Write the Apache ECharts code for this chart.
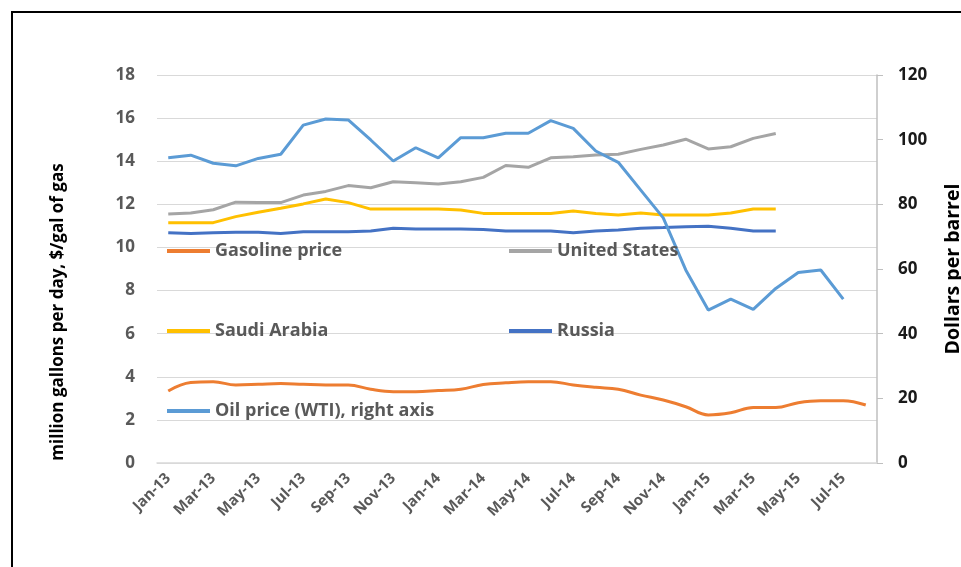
<!DOCTYPE html>
<html lang="en">
<head>
    <meta charset="utf-8">
    <title>Oil and gasoline</title>
    <script src="https://cdn.jsdelivr.net/npm/echarts@6/dist/echarts.min.js"></script>
    <style>
        html, body { margin: 0; padding: 0; background: #fff; }
        #chart { width: 961px; height: 567px; }
    </style>
</head>
<body>
    <div id="chart"></div>
    <script>
        // months Jan-13 .. Aug-15
        var months = ['Jan-13', 'Feb-13', 'Mar-13', 'Apr-13', 'May-13', 'Jun-13', 'Jul-13', 'Aug-13', 'Sep-13', 'Oct-13', 'Nov-13', 'Dec-13',
            'Jan-14', 'Feb-14', 'Mar-14', 'Apr-14', 'May-14', 'Jun-14', 'Jul-14', 'Aug-14', 'Sep-14', 'Oct-14', 'Nov-14', 'Dec-14',
            'Jan-15', 'Feb-15', 'Mar-15', 'Apr-15', 'May-15', 'Jun-15', 'Jul-15', 'Aug-15'];

        var leftTicks = [0, 2, 4, 6, 8, 10, 12, 14, 16, 18];
        var rightTicks = [0, 20, 40, 60, 80, 100, 120];

        var gasoline = [3.34, 3.73, 3.77, 3.62, 3.65, 3.69, 3.65, 3.62, 3.62, 3.42, 3.31, 3.31,
            3.36, 3.42, 3.64, 3.72, 3.77, 3.77, 3.62, 3.51, 3.42, 3.15, 2.92, 2.61,
            2.23, 2.33, 2.57, 2.57, 2.80, 2.89, 2.89, 2.69];

        var unitedStates = [11.55, 11.6, 11.75, 12.1, 12.08, 12.08, 12.43, 12.6, 12.87, 12.77, 13.05, 13.0,
            12.94, 13.05, 13.25, 13.8, 13.72, 14.16, 14.21, 14.29, 14.32, 14.55, 14.75, 15.02,
            14.57, 14.67, 15.06, 15.29, null, null, null, null];

        var saudiArabia = [11.15, 11.15, 11.15, 11.43, 11.63, 11.82, 12.02, 12.25, 12.08, 11.78, 11.78, 11.78,
            11.78, 11.74, 11.58, 11.58, 11.58, 11.58, 11.69, 11.58, 11.5, 11.6, 11.5, 11.5,
            11.5, 11.6, 11.78, 11.78, null, null, null, null];

        var russia = [10.68, 10.65, 10.68, 10.7, 10.7, 10.65, 10.73, 10.73, 10.73, 10.76, 10.89, 10.85,
            10.85, 10.85, 10.83, 10.76, 10.76, 10.76, 10.68, 10.76, 10.81, 10.89, 10.92, 10.96,
            10.98, 10.89, 10.76, 10.76, null, null, null, null];

        var oilPrice = [94.4, 95.2, 92.7, 91.9, 94.2, 95.5, 104.5, 106.4, 106.1, 99.9, 93.4, 97.5,
            94.4, 100.6, 100.6, 102, 102, 105.9, 103.5, 96.5, 93, 84.4, 75.8, 59.7,
            47.3, 50.7, 47.5, 54, 58.9, 59.7, 50.7, null];

        var txt = '#595959';
        var font = 'Open Sans';

        function legendAt(name, left, top) {
            return {
                data: [name],
                left: left,
                top: top,
                padding: 0,
                icon: 'rect',
                itemWidth: 43,
                itemHeight: 4,
                textStyle: { color: txt, fontSize: 18, fontWeight: 'bold', fontFamily: font }
            };
        }

        var option = {
            animation: false,
            backgroundColor: '#fff',
            graphic: [{
                type: 'rect',
                shape: { x: 12, y: 12, width: 1000, height: 600 },
                style: { fill: 'none', stroke: '#000', lineWidth: 2 }
            }],
            legend: [
                legendAt('Gasoline price', 167, 242),
                legendAt('United States', 509, 242),
                legendAt('Saudi Arabia', 167, 322),
                legendAt('Russia', 509, 322),
                legendAt('Oil price (WTI), right axis', 167, 402)
            ],
            grid: { left: 157, right: 84, top: 75, bottom: 104, outerBoundsMode: 'none', containLabel: false },
            xAxis: {
                type: 'category',
                data: months,
                boundaryGap: true,
                axisLine: { lineStyle: { color: '#d9d9d9', width: 1.5 } },
                axisTick: { interval: 1, length: 6, lineStyle: { color: '#d9d9d9' } },
                axisLabel: {
                    interval: 1, rotate: 45, margin: 13,
                    color: txt, fontSize: 15, fontWeight: 'bold', fontFamily: font
                }
            },
            yAxis: [{
                type: 'value',
                min: leftTicks[0],
                max: leftTicks[leftTicks.length - 1],
                interval: 2,
                name: 'million gallons per day, $/gal of gas',
                nameLocation: 'middle',
                nameRotate: 90,
                nameGap: 90,
                nameTextStyle: {
                    color: '#000', fontSize: 17, fontWeight: 'bold', fontFamily: font,
                    padding: [0, 86, 0, 0]
                },
                axisLine: { show: false },
                axisTick: { show: false },
                axisLabel: { color: txt, fontSize: 17, margin: 22, fontFamily: font, fontWeight: 'bold' },
                splitLine: { lineStyle: { color: '#d9d9d9', width: 1 } }
            }, {
                type: 'value',
                position: 'right',
                min: rightTicks[0],
                max: rightTicks[rightTicks.length - 1],
                interval: 20,
                name: 'Dollars per barrel',
                nameLocation: 'middle',
                nameRotate: 90,
                nameGap: 66,
                nameTextStyle: { color: '#000', fontSize: 19.5, fontWeight: 'bold', fontFamily: font },
                axisLine: { show: true, lineStyle: { color: '#bfbfbf', width: 1.5 } },
                axisTick: { show: true, length: 6, lineStyle: { color: '#bfbfbf' } },
                axisLabel: { color: '#1a1a1a', fontSize: 17, margin: 21, fontFamily: font, fontWeight: 'bold' },
                splitLine: { show: false }
            }],
            series: [{
                name: 'Gasoline price',
                type: 'line',
                data: gasoline,
                smooth: 0.4,
                symbol: 'none',
                lineStyle: { color: '#ED7D31', width: 3 },
                itemStyle: { color: '#ED7D31' }
            }, {
                name: 'United States',
                type: 'line',
                data: unitedStates,
                symbol: 'none',
                lineStyle: { color: '#A5A5A5', width: 3 },
                itemStyle: { color: '#A5A5A5' }
            }, {
                name: 'Saudi Arabia',
                type: 'line',
                data: saudiArabia,
                symbol: 'none',
                lineStyle: { color: '#FFC000', width: 3 },
                itemStyle: { color: '#FFC000' }
            }, {
                name: 'Russia',
                type: 'line',
                data: russia,
                symbol: 'none',
                lineStyle: { color: '#4472C4', width: 3 },
                itemStyle: { color: '#4472C4' }
            }, {
                name: 'Oil price (WTI), right axis',
                type: 'line',
                yAxisIndex: 1,
                data: oilPrice,
                symbol: 'none',
                lineStyle: { color: '#5B9BD5', width: 3 },
                itemStyle: { color: '#5B9BD5' }
            }]
        };

        var chart = echarts.init(document.getElementById('chart'));
        chart.setOption(option);
    </script>
</body>
</html>
